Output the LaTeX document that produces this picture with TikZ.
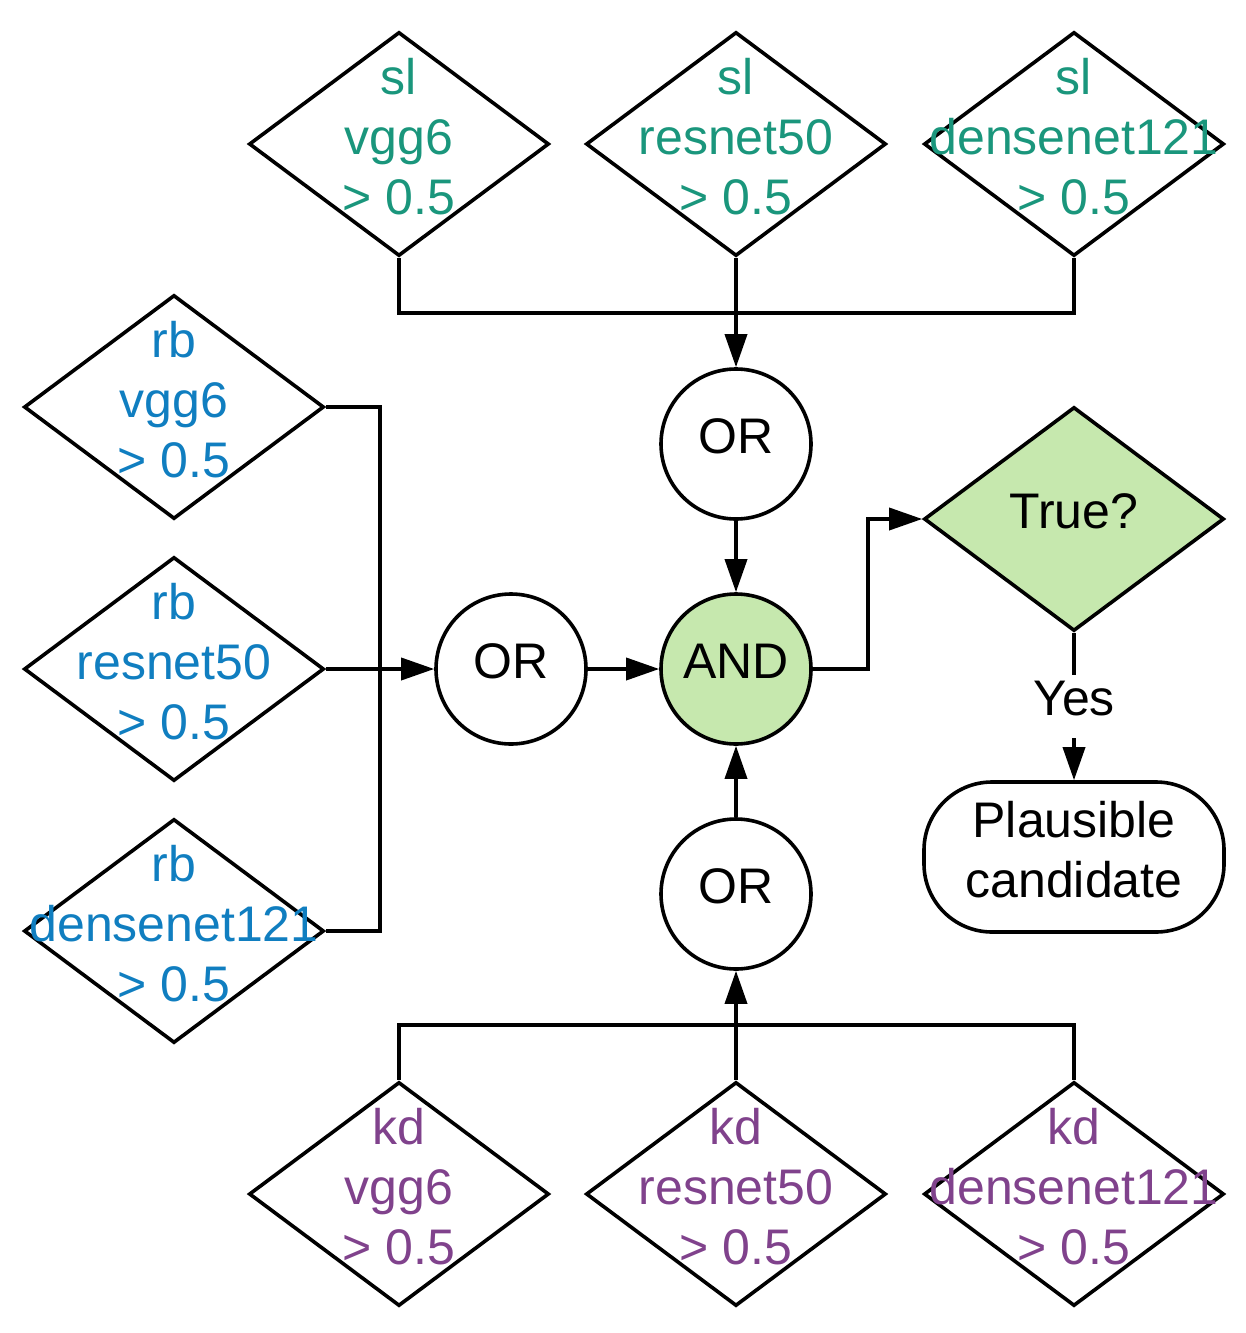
\documentclass[tikz,border=0pt]{standalone}
\usepackage{fontspec}
\setmainfont{Liberation Sans}
\usepackage{xcolor}
\usetikzlibrary{shapes.geometric}
\usetikzlibrary{arrows.meta}
\definecolor{slcol}{RGB}{26,150,124}
\definecolor{rbcol}{RGB}{16,126,192}
\definecolor{kdcol}{RGB}{128,66,140}
\definecolor{andfill}{RGB}{198,232,174}
\tikzset{>={Triangle[length=33pt,width=22pt]}}

\begin{document}
\begin{tikzpicture}[x=1pt,y=-1pt,line width=3.6pt,
        every node/.style={font=\fontsize{50}{60}\selectfont,text depth=16pt},
        cond/.style={diamond,draw,minimum width=300pt,minimum height=224pt,inner sep=0pt},
        gate/.style={circle,draw,minimum size=150pt,inner sep=0pt},
        txt/.style={align=center,text=#1}]
            \useasboundingbox (0,0) rectangle (1245,1333);
            \node[cond,label={[txt=slcol]center:sl\\vgg6\\> 0.5}] (slvgg) at (399,144) {};
            \node[cond,label={[txt=slcol]center:sl\\resnet50\\> 0.5}] (slres) at (736,144) {};
            \node[cond,label={[txt=slcol]center:sl\\densenet121\\> 0.5}] (sldense) at (1074,144) {};
            \node[cond,label={[txt=rbcol]center:rb\\vgg6\\> 0.5}] (rbvgg) at (174,407) {};
            \node[cond,label={[txt=rbcol]center:rb\\resnet50\\> 0.5}] (rbres) at (174,669) {};
            \node[cond,label={[txt=rbcol]center:rb\\densenet121\\> 0.5}] (rbdense) at (174,931) {};
            \node[cond,label={[txt=kdcol]center:kd\\vgg6\\> 0.5}] (kdvgg) at (399,1194) {};
            \node[cond,label={[txt=kdcol]center:kd\\resnet50\\> 0.5}] (kdres) at (736,1194) {};
            \node[cond,label={[txt=kdcol]center:kd\\densenet121\\> 0.5}] (kddense) at (1074,1194) {};
            \node[gate] (orT) at (736,444) {OR};
            \node[gate] (orL) at (511,669) {OR};
            \node[gate] (orB) at (736,894) {OR};
            \node[gate,fill=andfill] (and) at (736,669) {AND};
            \node[cond,fill=andfill] (true) at (1074,519) {True?};
            \node[draw,rounded corners=68pt,minimum width=300pt,minimum height=150pt,align=center] (plaus) at (1074,857) {Plausible\\candidate};
            \coordinate (slj) at (736,313);
            \coordinate (rbj) at (380,669);
            \coordinate (kdj) at (736,1025);
            \draw (slvgg.south) |- (slj);
            \draw (sldense.south) |- (slj);
            \draw[->] (slres.south) -- (orT.north);
            \draw (rbvgg.east) -| (rbj);
            \draw (rbdense.east) -| (rbj);
            \draw[->] (rbres.east) -- (orL.west);
            \draw (kdvgg.north) |- (kdj);
            \draw (kddense.north) |- (kdj);
            \draw[->] (kdres.north) -- (orB.south);
            \draw[->] (orT) -- (and);
            \draw[->] (orL) -- (and);
            \draw[->] (orB) -- (and);
            \draw[->] (and.east) -- ++(55,0) |- (true.west);
            \draw[->] (true.south) -- node[fill=white,inner xsep=4pt,inner ysep=6pt] (yes) {Yes} (plaus.north);
        \end{tikzpicture}
\end{document}
